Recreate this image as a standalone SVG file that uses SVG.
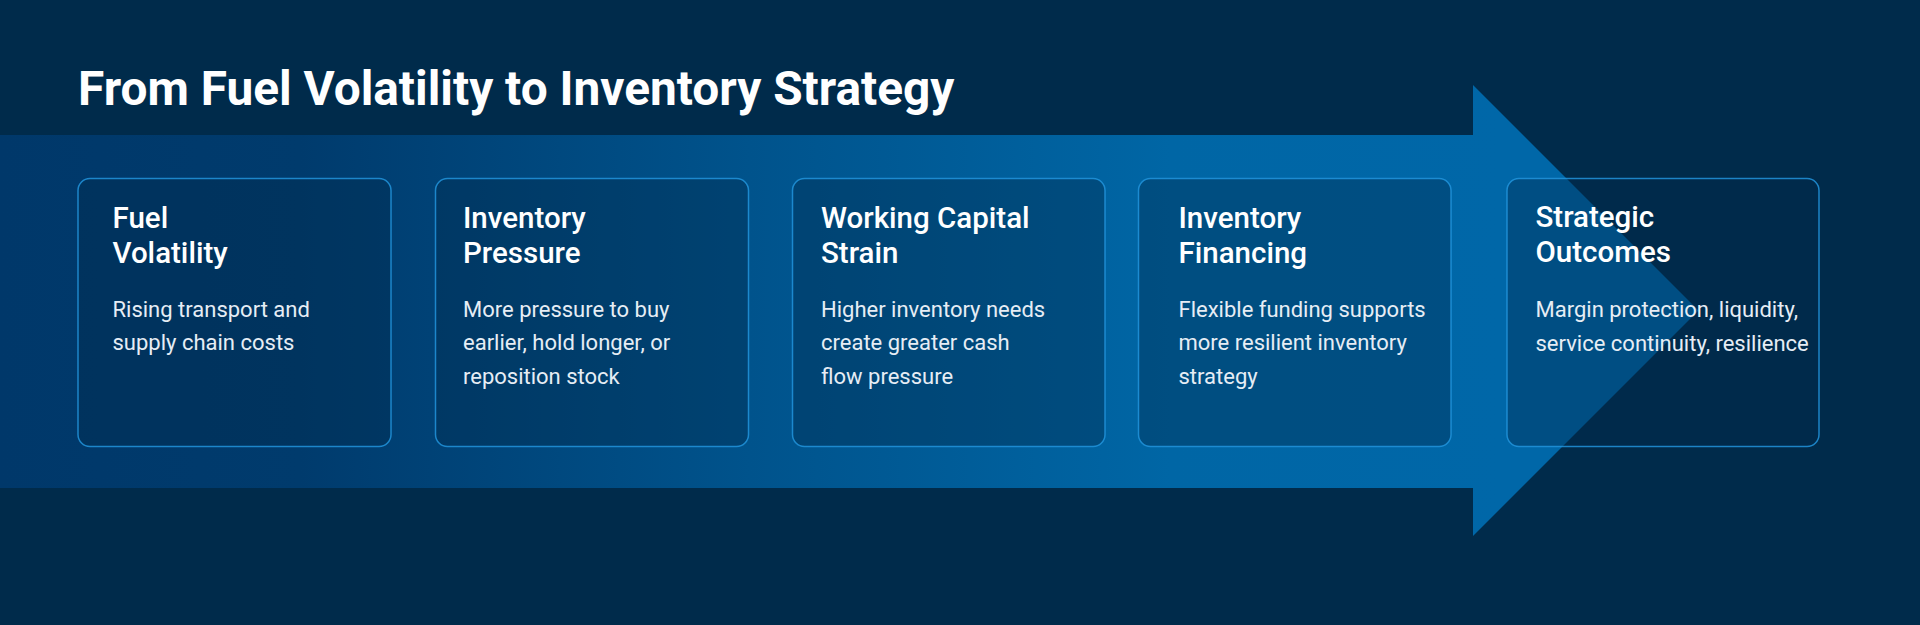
<svg xmlns="http://www.w3.org/2000/svg" width="1920" height="625" viewBox="0 0 1920 625">
  <defs>
    <linearGradient id="arrowGrad" gradientUnits="userSpaceOnUse" x1="0" y1="0" x2="1500" y2="0">
      <stop offset="0" stop-color="#00386a"/>
      <stop offset="0.2" stop-color="#003b6d"/>
      <stop offset="0.5" stop-color="#00538c"/>
      <stop offset="0.78" stop-color="#0066a5"/>
      <stop offset="1" stop-color="#0067a8"/>
    </linearGradient>
    <style>
      .title { font-family: Roboto, "Liberation Sans", sans-serif; font-weight: 700; font-size: 47.8px; fill: #ffffff; }
      .box { fill: #002b4b; fill-opacity: 0.4; stroke: #2194dc; stroke-opacity: 0.85; stroke-width: 1.5; }
      .head { font-family: Roboto, "Liberation Sans", sans-serif; font-weight: 500; font-size: 29.5px; fill: #ffffff; }
      .body { font-family: Roboto, "Liberation Sans", sans-serif; font-weight: 400; font-size: 22px; fill: #e6edf5; }
    </style>
  </defs>
  <rect x="0" y="0" width="1920" height="625" fill="#002b4b"/>
  <g id="connectors">
    <path d="M0,135 H1473 V85 L1698.5,310.5 L1473,536 V488 H0 Z" fill="url(#arrowGrad)"/>
  </g>
  <text class="title" x="78" y="105">From Fuel Volatility to Inventory Strategy</text>
  <g id="node-fuel-volatility">
    <rect class="box" x="78" y="178.5" width="313" height="268" rx="12"/>
    <text class="head" x="112.5" y="227.5">Fuel</text>
    <text class="head" x="112.5" y="262.5">Volatility</text>
    <text class="body" x="112.5" y="316.5">Rising transport and</text>
    <text class="body" x="112.5" y="350">supply chain costs</text>
  </g>
  <g id="node-inventory-pressure">
    <rect class="box" x="435.5" y="178.5" width="313" height="268" rx="12"/>
    <text class="head" x="463" y="227.5">Inventory</text>
    <text class="head" x="463" y="262.5">Pressure</text>
    <text class="body" x="463" y="316.5">More pressure to buy</text>
    <text class="body" x="463" y="350">earlier, hold longer, or</text>
    <text class="body" x="463" y="383.5">reposition stock</text>
  </g>
  <g id="node-working-capital">
    <rect class="box" x="792.5" y="178.5" width="312.5" height="268" rx="12"/>
    <text class="head" x="821" y="227.5">Working Capital</text>
    <text class="head" x="821" y="262.5">Strain</text>
    <text class="body" x="821" y="316.5">Higher inventory needs</text>
    <text class="body" x="821" y="350">create greater cash</text>
    <text class="body" x="821" y="383.5">flow pressure</text>
  </g>
  <g id="node-inventory-financing">
    <rect class="box" x="1138.5" y="178.5" width="312.5" height="268" rx="12"/>
    <text class="head" x="1178.5" y="227.5">Inventory</text>
    <text class="head" x="1178.5" y="262.5">Financing</text>
    <text class="body" x="1178.5" y="316.5">Flexible funding supports</text>
    <text class="body" x="1178.5" y="350">more resilient inventory</text>
    <text class="body" x="1178.5" y="383.5">strategy</text>
  </g>
  <g id="node-strategic-outcomes">
    <rect class="box" x="1507" y="178.5" width="312" height="268" rx="12"/>
    <text class="head" x="1535.5" y="227">Strategic</text>
    <text class="head" x="1535.5" y="262">Outcomes</text>
    <text class="body" x="1535.5" y="317">Margin protection, liquidity,</text>
    <text class="body" x="1535.5" y="350.5">service continuity, resilience</text>
  </g>
</svg>
